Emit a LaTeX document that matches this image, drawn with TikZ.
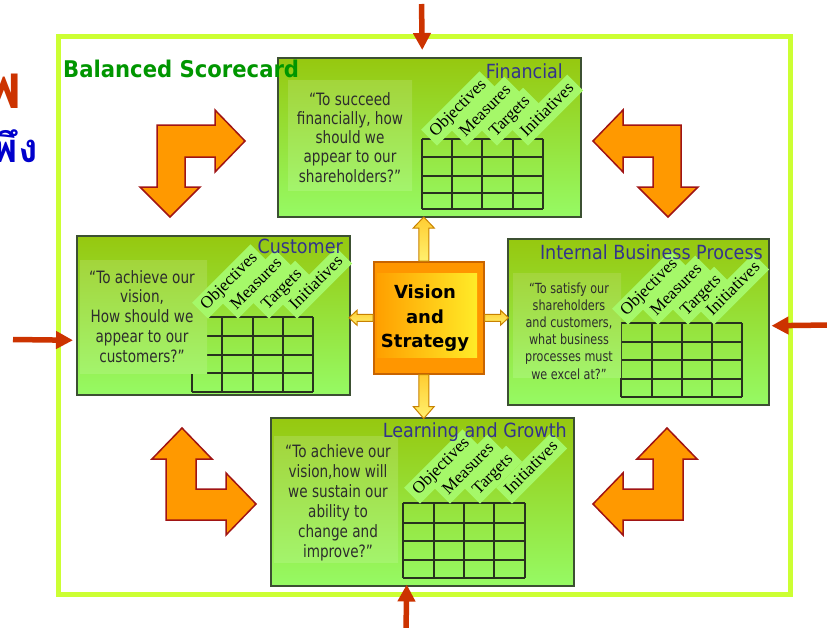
\documentclass[tikz,border=0pt]{standalone}
\usepackage{fontspec}
\usetikzlibrary{arrows.meta,calc}
\setmainfont{DejaVu Sans}
\newfontfamily\bscQuote[FakeStretch=0.8]{DejaVu Sans}
\newfontfamily\bscTitle[FakeStretch=0.9]{DejaVu Sans}
\newfontfamily\bscHead[FakeStretch=0.92]{DejaVu Sans}
\newfontfamily\bscTab{Liberation Serif}
\newfontfamily\bscThai[Script=Thai]{Loma}
\definecolor{frameY}{RGB}{204,255,51}
\definecolor{boxTop}{RGB}{150,200,15}
\definecolor{boxBot}{RGB}{150,250,100}
\definecolor{qTop}{RGB}{163,213,59}
\definecolor{qBot}{RGB}{163,244,108}
\definecolor{tabG}{RGB}{165,248,105}
\definecolor{boxLine}{RGB}{60,80,50}
\definecolor{gridC}{RGB}{40,50,30}
\definecolor{titleB}{RGB}{51,51,140}
\definecolor{headG}{RGB}{0,150,0}
\definecolor{redA}{RGB}{204,51,0}
\definecolor{orA}{RGB}{255,153,0}
\definecolor{orLine}{RGB}{160,20,20}
\definecolor{yelA}{RGB}{255,205,50}
\definecolor{yelB}{RGB}{255,240,110}
\definecolor{yelLine}{RGB}{200,130,0}
\definecolor{vsOut}{RGB}{255,150,0}
\definecolor{vsLine}{RGB}{200,100,0}
\definecolor{vsL}{RGB}{255,160,0}
\definecolor{vsR}{RGB}{255,235,40}
\definecolor{qText}{RGB}{45,45,45}
\definecolor{thaiBlue}{RGB}{0,0,204}
\tikzset{
  gbox/.style={draw=boxLine, line width=1.5pt, top color=boxTop, bottom color=boxBot, anchor=north west, inner sep=0pt},
  qbox/.style={top color=qTop, bottom color=qBot, anchor=north west, inner sep=0pt, draw=none},
  gridl/.style={draw=gridC, line width=1.2pt},
  tabn/.style={fill=tabG, rotate=45, anchor=south west, font=\bscTab\fontsize{17}{17}\selectfont, inner xsep=5pt, inner ysep=3pt, text height=12.5pt, text depth=4pt},
  ttl/.style={font=\bscTitle\fontsize{19.5}{20}\selectfont, text=titleB, anchor=base east, inner sep=0pt},
  qtxt/.style={font=\bscQuote\fontsize{17}{19}\selectfont, text=qText, anchor=base, inner sep=0pt},
  qtxts/.style={font=\bscQuote\fontsize{14}{17}\selectfont, text=qText, anchor=base, inner sep=0pt},
  vstxt/.style={font=\bfseries\fontsize{18}{20}\selectfont, text=black, anchor=base, inner sep=0pt},
  yarr/.style={draw=yelLine, line width=1pt, top color=yelA, bottom color=yelB},
  rarr/.style={draw=redA, line width=5.5pt, -{Triangle[width=17pt,length=17pt]}},
  orarr/.style={fill=orA, draw=orLine, line width=1.5pt, line join=miter},
}
\newcommand{\bscGrid}[6]{%
  \foreach \xx in {#2} \draw[gridl] (\xx,#4) -- (\xx,#6);
  \foreach \yy in {#5} \draw[gridl] (#1,\yy) -- (#3,\yy);}
\begin{document}
\begin{tikzpicture}[x=1pt,y=-1pt]
\useasboundingbox (0,0) rectangle (827,627);
\fill[white] (0,0) rectangle (827,627);
% cut-off Thai title text at the left edge
\node[font=\bscThai\bfseries\fontsize{62}{62}\selectfont, text=redA, anchor=base east, inner sep=0pt] (th1) at (23,108) {พ};
\node[font=\bscThai\bfseries\fontsize{40}{40}\selectfont, text=thaiBlue, anchor=base east, inner sep=0pt] (th2) at (38,162) {พึง};
% frame
\node[draw=frameY, line width=5pt, minimum width=732pt, minimum height=558pt, anchor=north west, inner sep=0pt] (frame) at (55.5,34) {};
% bent orange arrows
\draw[orarr] (157,125) -- (215,125) -- (215,110) -- (245,141) -- (215,172) -- (215,157) -- (185,157) -- (185,187) -- (200,187) -- (170,217) -- (140,187) -- (157,187) -- cycle;
\draw[orarr] (681,125) -- (623,125) -- (623,110) -- (593,141) -- (623,172) -- (623,157) -- (653,157) -- (653,187) -- (638,187) -- (668,217) -- (698,187) -- (681,187) -- cycle;
\draw[orarr] (166,520) -- (166,459) -- (152,459) -- (182,428) -- (212,459) -- (196,459) -- (196,489) -- (226,489) -- (226,473) -- (256,504) -- (226,535) -- (226,520) -- cycle;
\draw[orarr] (683,520) -- (683,459) -- (697,459) -- (667,428) -- (637,459) -- (653,459) -- (653,489) -- (623,489) -- (623,473) -- (593,504) -- (623,535) -- (623,520) -- cycle;
% ---------------- Financial
\node[gbox, minimum width=303pt, minimum height=159pt] (fin) at (277,57) {};
\bscGrid{422}{422,452,482,513,543}{543}{139}{139,157,176,193,209}{209}
\node[qbox, minimum width=124pt, minimum height=110pt] (finq) at (288,80) {};
\foreach \t [count=\i from 0] in {{“To succeed},{financially, how},{should we},{appear to our},{shareholders?”}}
  \node[qtxt] (finl\i) at (350,105+19.25*\i) {\t};
\foreach \lab/\x in {Objectives/437,Measures/467,Targets/497,Initiatives/528}
  \node[tabn] (fin-\lab) at (\x,146) {\lab};
\node[ttl] (fint) at (563,78) {Financial};
% ---------------- Customer
\node[gbox, minimum width=273pt, minimum height=159pt] (cus) at (76,235) {};
\bscGrid{192}{192,222,253,283,313}{313}{317}{317,336,355,373,392}{392}
\node[qbox, minimum width=127pt, minimum height=113pt] (cusq) at (80,260) {};
\foreach \t [count=\i from 0] in {{“To achieve our},{vision,},{How should we},{appear to our},{customers?”}}
  \node[qtxt] (cusl\i) at (142,283+19.75*\i) {\t};
\foreach \lab/\x in {Objectives/208,Measures/238,Targets/269,Initiatives/297}
  \node[tabn] (cus-\lab) at (\x,319) {\lab};
\node[ttl] (cust) at (343,253) {Customer};
% ---------------- Internal Business Process
\node[gbox, minimum width=261pt, minimum height=166pt] (ibp) at (507,238) {};
\bscGrid{621}{621,652,682,712,742}{742}{323}{323,342,360,379,397}{397}
\node[qbox, minimum width=108pt, minimum height=104pt] (ibpq) at (513,273) {};
\foreach \t [count=\i from 0] in {{“To satisfy our},{shareholders},{and customers,},{what business},{processes must},{we excel at?”}}
  \node[qtxts] (ibpl\i) at (569,293+17.2*\i) {\t};
\foreach \lab/\x in {Objectives/628,Measures/658,Targets/688,Initiatives/714}
  \node[tabn] (ibp-\lab) at (\x,325) {\lab};
\node[ttl] (ibpt) at (763,259) {Internal Business Process};
% ---------------- Learning and Growth
\node[gbox, minimum width=303pt, minimum height=168pt] (lrn) at (270,417) {};
\bscGrid{403}{403,434,464,494,525}{525}{503}{503,523,541,560,578}{578}
\node[qbox, minimum width=124pt, minimum height=126pt] (lrnq) at (274,436) {};
\foreach \t [count=\i from 0] in {{“To achieve our},{vision,how will},{we sustain our},{ability to},{change and},{improve?”}}
  \node[qtxt] (lrnl\i) at (338,457+20*\i) {\t};
\foreach \lab/\x in {Objectives/420,Measures/450,Targets/480,Initiatives/512}
  \node[tabn] (lrn-\lab) at (\x,504) {\lab};
\node[ttl] (lrnt) at (567,437) {Learning and Growth};
% ---------------- Vision and Strategy
\node[draw=vsLine, line width=1.5pt, fill=vsOut, minimum width=110pt, minimum height=112pt, anchor=north west, inner sep=0pt] (vs) at (373,261) {};
\node[left color=vsL, right color=vsR, minimum width=100pt, minimum height=84pt, anchor=north west, inner sep=0pt] (vsin) at (377,273) {};
\node[vstxt] (vs1) at (425,298) {Vision};
\node[vstxt] (vs2) at (425,323) {and};
\node[vstxt] (vs3) at (425,347) {Strategy};
% yellow connector arrows
\draw[yarr] ($(vs.north)+(-10,0)$) -- ++(0,-33) -- ++(-5.5,0) -- ++(10.5,-11) -- ++(10.5,11) -- ++(-5.5,0) -- ++(0,33) -- cycle;
\draw[yarr] ($(vs.south)+(-10,0)$) -- ++(0,32) -- ++(-5.5,0) -- ++(10.5,12) -- ++(10.5,-12) -- ++(-5.5,0) -- ++(0,-32) -- cycle;
\draw[yarr] ($(vs.west)+(0,-3.5)$) -- ++(-16,0) -- ++(0,-4) -- ++(-8,7.5) -- ++(8,7.5) -- ++(0,-4) -- ++(16,0) -- cycle;
\draw[yarr] ($(vs.east)+(0,-3.5)$) -- ++(16,0) -- ++(0,-4) -- ++(8,7.5) -- ++(-8,7.5) -- ++(0,-4) -- ++(-16,0) -- cycle;
% heading
\node[font=\bscHead\bfseries\fontsize{23}{24}\selectfont, text=headG, anchor=base west, inner sep=0pt] (head) at (63,77) {Balanced Scorecard};
% red arrows
\coordinate (rt) at (421.5,4);
\coordinate (rl) at (13,339.5);
\coordinate (rr) at (830,325);
\coordinate (rb) at (406,630);
\draw[rarr] (rt) -- ($(fin.north)+(-7,-7)$);
\draw[rarr] (rl) -- ($(cus.west)+(-3,25)$);
\draw[rarr] (rr) -- ($(ibp.east)+(2,4)$);
\draw[rarr] (rb) -- ($(lrn.south)+(-15.5,-2)$);
\end{tikzpicture}
\end{document}
